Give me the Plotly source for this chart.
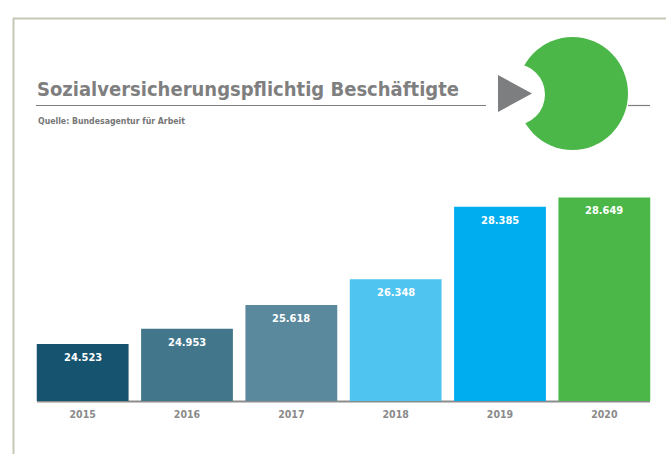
import plotly.graph_objects as go

W, H = 666, 454

years = ["2015", "2016", "2017", "2018", "2019", "2020"]
values = [24.523, 24.953, 25.618, 26.348, 28.385, 28.649]
value_labels = ["24.523", "24.953", "25.618", "26.348", "28.385", "28.649"]
bar_colors = ["#15536e", "#42768b", "#5a889c", "#4fc4f1", "#00aeef", "#4bb749"]

title_text = "Sozialversicherungspflichtig Beschäftigte"
source_text = "Quelle: Bundesagentur für Arbeit"

FONT = "Liberation Sans Narrow, DejaVu Sans Condensed, sans-serif"


def px(x):
    return x / W


def py(y):
    return 1 - y / H


fig = go.Figure()
fig.add_trace(go.Bar(
    x=years, y=values,
    marker=dict(color=bar_colors, line=dict(width=0)),
    hoverinfo="skip",
))

annotations = []
for i, (v, lab) in enumerate(zip(values, value_labels)):
    annotations.append(dict(
        x=i, y=v, xref="x", yref="y", text=f"<b>{lab}</b>", showarrow=False,
        yanchor="top", yshift=-5,
        font=dict(family=FONT, size=11, color="white"),
    ))

annotations += [
    dict(x=px(35), y=py(88.5), xref="paper", yref="paper", xanchor="left", yanchor="middle",
         text=f"<b>{title_text}</b>", showarrow=False,
         font=dict(family=FONT, size=20, color="#7f7f7f")),
    dict(x=px(36), y=py(121), xref="paper", yref="paper", xanchor="left", yanchor="middle",
         text=f"<b>{source_text}</b>", showarrow=False,
         font=dict(family=FONT, size=8.7, color="#777777")),
]

shapes = [
    # outer frame
    dict(type="line", xref="paper", yref="paper", x0=px(13.5), x1=px(13.5), y0=py(18), y1=py(454),
         line=dict(color="#c6c8b6", width=2)),
    dict(type="line", xref="paper", yref="paper", x0=px(13), x1=px(666), y0=py(18.5), y1=py(18.5),
         line=dict(color="#c6c8b6", width=2)),
    # title underline
    dict(type="line", xref="paper", yref="paper", x0=px(36), x1=px(486), y0=py(105.5), y1=py(105.5),
         line=dict(color="#7f7f7f", width=1.2)),
    dict(type="line", xref="paper", yref="paper", x0=px(628), x1=px(650), y0=py(105.5), y1=py(105.5),
         line=dict(color="#7f7f7f", width=1.2)),
    # green circle
    dict(type="circle", xref="paper", yref="paper", x0=px(517), x1=px(628), y0=py(37), y1=py(150),
         fillcolor="#4bb749", line=dict(width=0), layer="above"),
    # white cut-out
    dict(type="circle", xref="paper", yref="paper", x0=px(485), x1=px(545), y0=py(64), y1=py(125),
         fillcolor="white", line=dict(width=0), layer="above"),
    # triangle
    dict(type="path", xref="paper", yref="paper",
         path=f"M {px(498)},{py(75)} L {px(532)},{py(93.5)} L {px(498)},{py(112)} Z",
         fillcolor="#7d7e80", line=dict(width=0), layer="above"),
    # base axis line
    dict(type="line", xref="paper", yref="paper", x0=px(37), x1=px(650), y0=py(401.5), y1=py(401.5),
         line=dict(color="#8c8c8c", width=2), layer="below"),
]

base = 22.918
scale = 35.53  # px per unit
plot_top, plot_bottom = 180, 401
ymax = base + (plot_bottom - plot_top) / scale

fig.update_layout(
    width=W, height=H, autosize=False,
    margin=dict(l=0, r=0, t=0, b=0, pad=0, autoexpand=False),
    paper_bgcolor="white", plot_bgcolor="rgba(0,0,0,0)",
    showlegend=False,
    bargap=0.12,
    xaxis=dict(type="category", range=[-0.5, len(years) - 0.5], autorange=False,
               domain=[px(30.5), px(656.5)], showgrid=False, zeroline=False,
               showline=False, automargin=False, ticklabelstandoff=5,
               ticks="", tickfont=dict(family=FONT, size=10.5, color="#8a8a8a"),
               tickprefix="<b>", ticksuffix="</b>", fixedrange=True),
    yaxis=dict(domain=[py(plot_bottom), py(plot_top)], range=[base, ymax], visible=False,
               automargin=False, fixedrange=True),
    annotations=annotations,
    shapes=shapes,
)

fig.write_html("out.html", config={"displayModeBar": False},
               post_script="document.body.style.margin='0';document.body.style.overflow='hidden';")
